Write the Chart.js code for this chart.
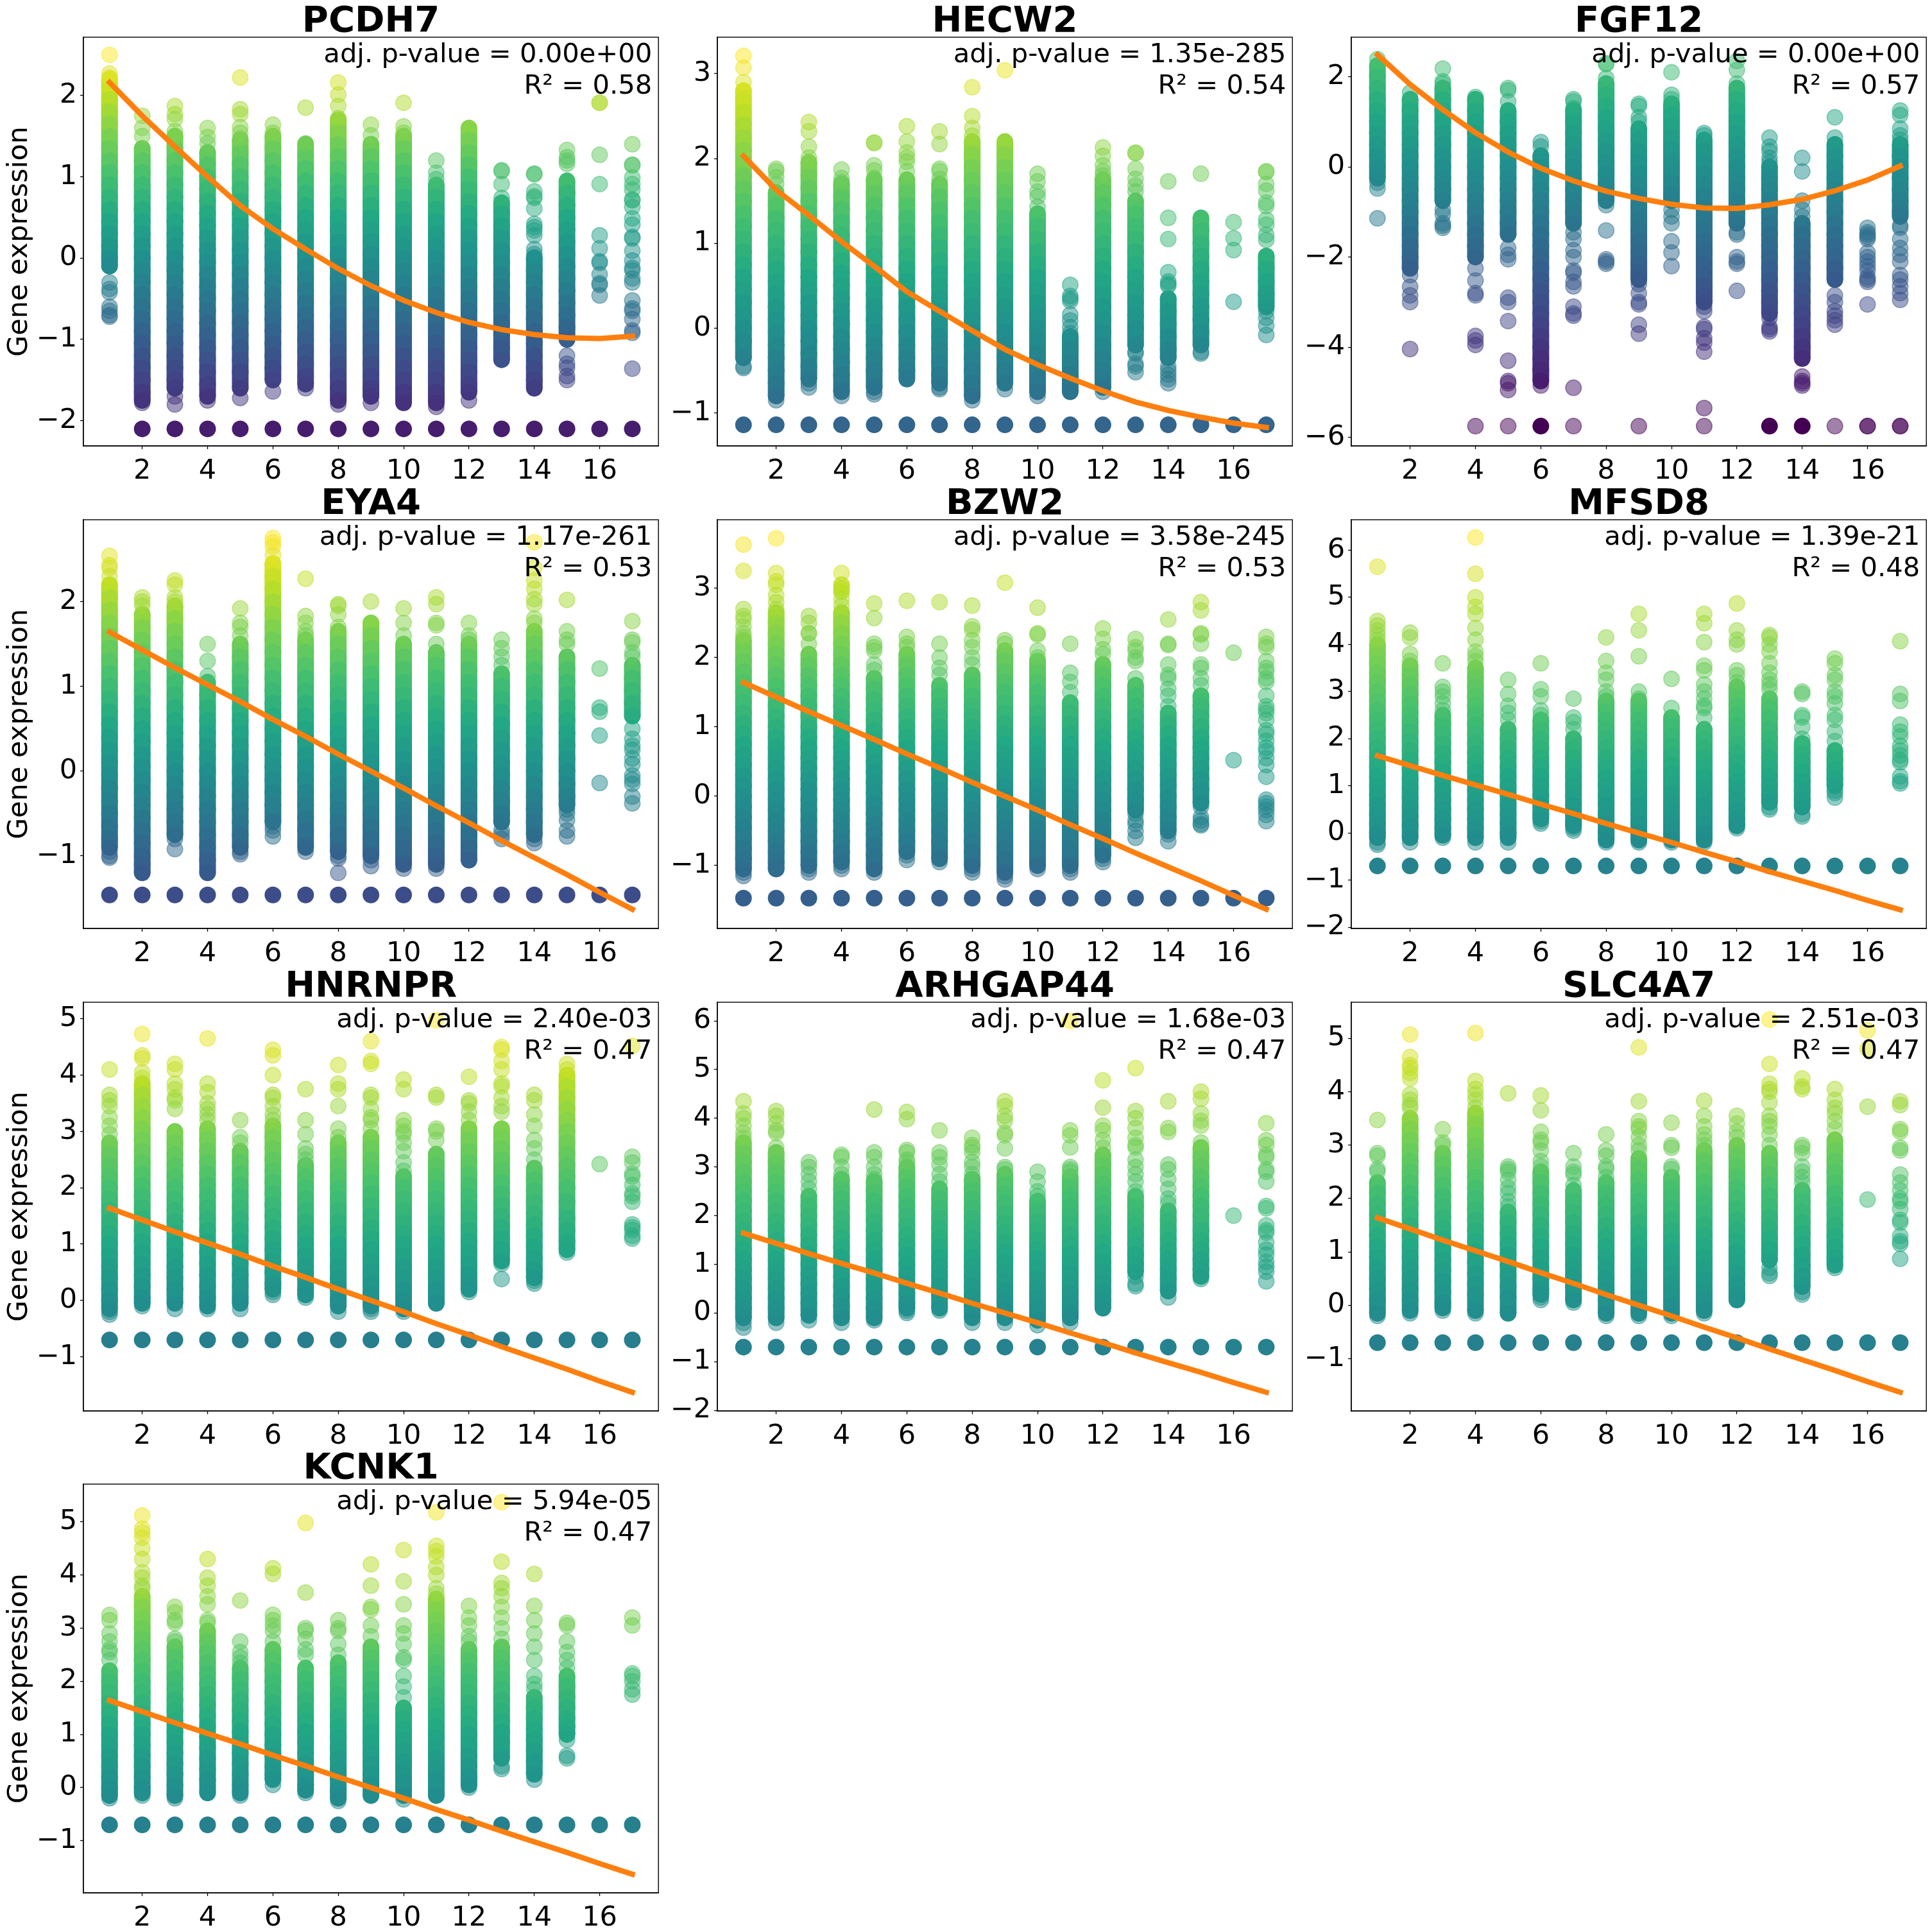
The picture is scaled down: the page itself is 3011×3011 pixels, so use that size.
<!DOCTYPE html>
<html>
<head>
<meta charset="utf-8">
<title>Gene expression</title>
<script src="https://cdn.jsdelivr.net/npm/chart.js@4"></script>
<style>
  html, body { margin: 0; padding: 0; background: #fff; }
  #page { position: relative; width: 3011px; height: 3011px; overflow: hidden; background: #fff; }
  canvas { position: absolute; }
</style>
</head>
<body>
<div id="page"></div>
<script>
const categories = [1,2,3,4,5,6,7,8,9,10,11,12,13,14,15,16,17];
const xTicks = [2,4,6,8,10,12,14,16];
const linearFit = [1.64,1.43,1.22,1.02,.82,.61,.41,.2,0,-.2,-.41,-.61,-.82,-1.02,-1.22,-1.43,-1.63];

// PCDH7
const PCDH7_fit = [2.16,1.75,1.37,1,.645,.36,.11,-.13,-.34,-.52,-.67,-.79,-.88,-.94,-.98,-.99,-.96];
const PCDH7_floor = -2.1;
const PCDH7_floorCols = [2,3,4,5,6,7,8,9,10,11,12,13,14,15,16,17];
const PCDH7_dense = [
[2.2,2.1,1.95,1.8,1.65,1.5,1.35,1.2,1.05,.9,.75,.6,.45,.3,.15,0,-.1],
[1.35,1.2,1.05,.9,.75,.6,.45,.3,.15,0,-.15,-.3,-.45,-.6,-.75,-.9,-1.05,-1.2,-1.35,-1.5,-1.65,-1.75],
[1.5,1.35,1.2,1.05,.9,.75,.6,.45,.3,.15,0,-.15,-.3,-.45,-.6,-.75,-.9,-1.05,-1.2,-1.35,-1.5,-1.6],
[1.3,1.15,1,.85,.7,.55,.4,.25,.1,-.05,-.2,-.35,-.5,-.65,-.8,-.95,-1.1,-1.25,-1.4,-1.55,-1.7],
[1.45,1.3,1.15,1,.85,.7,.55,.4,.25,.1,-.05,-.2,-.35,-.5,-.65,-.8,-.95,-1.1,-1.25,-1.4,-1.6],
[1.5,1.35,1.2,1.05,.9,.75,.6,.45,.3,.15,0,-.15,-.3,-.45,-.6,-.75,-.9,-1.05,-1.2,-1.35,-1.5],
[1.4,1.25,1.1,.95,.8,.65,.5,.35,.2,.05,-.1,-.25,-.4,-.55,-.7,-.85,-1,-1.15,-1.3,-1.45,-1.55],
[1.7,1.55,1.4,1.25,1.1,.95,.8,.65,.5,.35,.2,.05,-.1,-.25,-.4,-.55,-.7,-.85,-1,-1.15,-1.3,-1.45,-1.6,-1.75],
[1.4,1.25,1.1,.95,.8,.65,.5,.35,.2,.05,-.1,-.25,-.4,-.55,-.7,-.85,-1,-1.15,-1.3,-1.45,-1.6,-1.7],
[1.5,1.35,1.2,1.05,.9,.75,.6,.45,.3,.15,0,-.15,-.3,-.45,-.6,-.75,-.9,-1.05,-1.2,-1.35,-1.5,-1.65,-1.78],
[.9,.75,.6,.45,.3,.15,0,-.15,-.3,-.45,-.6,-.75,-.9,-1.05,-1.2,-1.35,-1.5,-1.65,-1.78],
[1.6,1.45,1.3,1.15,1,.85,.7,.55,.4,.25,.1,-.05,-.2,-.35,-.5,-.65,-.8,-.95,-1.1,-1.25,-1.4,-1.55,-1.65],
[.68,.55,.4,.25,.1,-.05,-.2,-.35,-.5,-.65,-.8,-.95,-1.1,-1.25],
[0,-.15,-.3,-.45,-.6,-.75,-.9,-1.05,-1.2,-1.35,-1.5,-1.6],
[.95,.8,.65,.5,.35,.2,.05,-.1,-.25,-.4,-.55,-.7,-.85,-1],
[],
[]
];
const PCDH7_sparse = [
[2.5,2.27,2.22,-.3,-.38,-.42,-.6,-.65,-.7,-.72],
[1.75,1.6,1.5,-1.78],
[1.87,1.77,1.71,1.56,1.5,-1.7,-1.8],
[1.6,1.49,1.41,-1.75],
[2.22,1.83,1.77,1.61,1.54,1.47,-1.72],
[1.64,1.54,-1.64],
[1.85,1.41,-1.6],
[2.16,2.01,1.87,1.72,-1.8],
[1.64,1.51,-1.78],
[1.91,1.62,1.54],
[1.2,1.05,.97,-1.83],
[-1.75],
[1.08,1.07,.91,.74],
[1.04,1.03,.82,.76,.74,.61,.42,.38,.34,.28,.11,.05,.01],
[1.33,1.24,1.2,1.16,-1.2,-1.3,-1.35,-1.45,-1.5],
[1.91,1.91,1.27,.91,.28,.12,-.04,-.06,-.2,-.31,-.33,-.46],
[1.4,1.15,1.14,.99,.91,.84,.72,.71,.63,.49,.41,.26,.24,.09,-.03,-.12,-.15,-.25,-.3,-.52,-.62,-.65,-.75,-.89,-.92,-1.36]
];

// HECW2
const HECW2_fit = [2.03,1.63,1.33,1.02,.73,.43,.2,-.03,-.25,-.43,-.59,-.74,-.87,-.97,-1.05,-1.12,-1.17];
const HECW2_floor = -1.14;
const HECW2_floorCols = categories;
const HECW2_dense = [
[2.8,2.7,2.55,2.4,2.25,2.1,1.95,1.8,1.65,1.5,1.35,1.2,1.05,.9,.75,.6,.45,.3,.15,0,-.15,-.35],
[1.6,1.45,1.3,1.15,1,.85,.7,.55,.4,.25,.1,-.05,-.2,-.35,-.5,-.65,-.8],
[1.95,1.8,1.65,1.5,1.35,1.2,1.05,.9,.75,.6,.45,.3,.15,0,-.15,-.3,-.45,-.6],
[1.7,1.55,1.4,1.25,1.1,.95,.8,.65,.5,.35,.2,.05,-.1,-.25,-.4,-.55,-.75],
[1.75,1.6,1.45,1.3,1.15,1,.85,.7,.55,.4,.25,.1,-.05,-.2,-.35,-.5,-.7],
[1.75,1.6,1.45,1.3,1.15,1,.85,.7,.55,.4,.25,.1,-.05,-.2,-.35,-.5,-.6],
[1.7,1.55,1.4,1.25,1.1,.95,.8,.65,.5,.35,.2,.05,-.1,-.25,-.4,-.55,-.65],
[2.2,2.05,1.9,1.75,1.6,1.45,1.3,1.15,1,.85,.7,.55,.4,.25,.1,-.05,-.2,-.35,-.5,-.65,-.8],
[2.2,2.05,1.9,1.75,1.6,1.45,1.3,1.15,1,.85,.7,.55,.4,.25,.1,-.05,-.2,-.35,-.5,-.65],
[1.35,1.2,1.05,.9,.75,.6,.45,.3,.15,0,-.15,-.3,-.45,-.6,-.75],
[-.1,-.25,-.4,-.55,-.65,-.75],
[1.75,1.6,1.45,1.3,1.15,1,.85,.7,.55,.4,.25,.1,-.05,-.2,-.35,-.5,-.7],
[1.5,1.35,1.2,1.05,.9,.75,.6,.45,.3,.15,0,-.2],
[.35,.2,.05,-.1,-.25,-.35],
[1.3,1.15,1,.85,.7,.55,.4,.25,.1,-.05,-.2],
[],
[.85,.7,.55,.4,.25]
];
const HECW2_sparse = [
[3.21,3.07,2.9,-.45,-.47],
[1.88,1.85,1.78,1.7,-.85],
[2.43,2.32,2.14,2.01,1.96,-.65,-.7],
[1.87,1.77,1.72,-.8],
[2.19,2.18,1.92,1.86,1.77,-.75,-.78],
[2.38,2.2,2.07,2.01,1.96,1.85],
[2.32,2.17,1.88,1.85,1.76,-.7,-.72],
[2.84,2.5,2.36,2.27,-.85],
[3.04,-.72],
[1.82,1.73,1.61,1.55,1.43,-.8],
[.51,.38,.35,.32,.16,.09,.01,-.06],
[2.13,2.03,1.92,1.85,1.8,-.75],
[2.07,2.06,1.88,1.76,1.68,1.61,-.3,-.28,-.42,-.45,-.52],
[1.73,1.3,1.05,.66,.55,.52,.5,-.45,-.5,-.55,-.6,-.65],
[1.82,-.28,-.3],
[1.25,1.06,.92,.31],
[1.85,1.84,1.7,1.62,1.48,1.44,1.28,1.22,1.1,1.04,.42,.31,.2,.12,.03,-.08]
];

// FGF12
const FGF12_fit = [2.49,1.83,1.27,.76,.33,-.03,-.31,-.54,-.7,-.83,-.91,-.92,-.84,-.72,-.53,-.29,.02];
const FGF12_floor = -5.75;
const FGF12_floorCols = [6,13,14];
const FGF12_dense = [
[2.25,2,1.75,1.5,1.25,1,.75,.5,.25,0,-.25],
[1.5,1.25,1,.75,.5,.25,0,-.25,-.5,-.75,-1,-1.25,-1.5,-1.75,-2,-2.25],
[1.75,1.5,1.25,1,.75,.5,.25,0,-.25,-.5,-.75],
[1.5,1.25,1,.75,.5,.25,0,-.25,-.5,-.75,-1,-1.25,-1.5,-1.75,-2],
[1.25,1,.75,.5,.25,0,-.25,-.5,-.75,-1,-1.25,-1.5],
[.25,0,-.25,-.5,-.75,-1,-1.25,-1.5,-1.75,-2,-2.25,-2.5,-2.75,-3,-3.25,-3.5,-3.75,-4,-4.25,-4.5,-4.75],
[1.25,1,.75,.5,.25,0,-.25,-.5,-.75,-1,-1.25],
[1.85,1.6,1.35,1.1,.85,.6,.35,.1,-.15,-.4,-.6,-.75],
[.85,.6,.35,.1,-.15,-.4,-.65,-.9,-1.15,-1.4,-1.65,-1.9,-2.15,-2.35,-2.5],
[1.4,1.15,.9,.65,.4,.15,-.1,-.35,-.6,-.75],
[.6,.35,.1,-.15,-.4,-.65,-.9,-1.15,-1.4,-1.65,-1.9,-2.15,-2.4,-2.65,-2.85,-3],
[1.75,1.5,1.25,1,.75,.5,.25,0,-.25,-.5,-.75,-1,-1.25],
[0,-.25,-.5,-.75,-1,-1.25,-1.5,-1.75,-2,-2.25,-2.5,-2.75,-3,-3.25],
[-1.25,-1.5,-1.75,-2,-2.25,-2.5,-2.75,-3,-3.25,-3.5,-3.75,-4,-4.25],
[.5,.25,0,-.25,-.5,-.75,-1,-1.25,-1.5,-1.75,-2,-2.25,-2.5],
[],
[.5,.25,0,-.25,-.5,-.75,-1,-1.1]
];
const FGF12_sparse = [
[2.39,-.35,-.48,-1.14],
[1.65,-2.4,-2.66,-2.85,-3,-4.04],
[2.18,1.9,1.85,-.95,-1.05,-1.25,-1.3,-1.35],
[1.55,-2.25,-2.52,-2.8,-2.85,-3.75,-3.85,-3.95,-5.75],
[1.75,1.7,1.45,-1.8,-1.95,-2.05,-2.9,-3,-3.42,-4.3,-4.75,-4.8,-4.95,-5.75],
[.55,.45,-4.85],
[1.5,1.45,1.3,-1.45,-1.6,-1.85,-2,-2.3,-2.35,-2.55,-2.65,-3.1,-3.25,-3.3,-4.9,-5.75],
[2.3,2.28,1.97,-.85,-1.41,-2.05,-2.1,-2.15],
[1.4,1.35,1.1,1,-2.6,-2.8,-3,-3.05,-3.5,-3.7,-5.75],
[2.1,1.6,1.5,-.95,-1.1,-1.25,-1.65,-1.9,-2.2],
[.75,.7,-3.1,-3.2,-3.55,-3.6,-3.8,-3.9,-4.1,-5.35,-5.75],
[2.35,2.15,1.85,-1.45,-1.5,-2,-2.1,-2.15,-2.75],
[.65,.45,.35,.2,.1,-3.35,-3.55,-3.6,-3.65],
[.2,-.1,-.75,-.95,-1.1,-4.65,-4.75,-4.8,-4.85],
[1.1,.65,-2.85,-3,-3.2,-3.3,-3.4,-3.5,-5.75],
[-1.35,-1.45,-1.5,-1.55,-1.6,-1.9,-2,-2.1,-2.2,-2.3,-2.45,-2.5,-2.55,-3.05,-5.75,-5.75],
[1.25,1.15,.85,.7,.6,-1.3,-1.35,-1.6,-1.8,-1.95,-2.1,-2.4,-2.5,-2.65,-2.8,-2.95,-5.75,-5.75]
];

// EYA4
const EYA4_floor = -1.46;
const EYA4_floorCols = categories;
const EYA4_dense = [
[2.2,2.05,1.9,1.75,1.6,1.45,1.3,1.15,1,.85,.7,.55,.4,.25,.1,-.05,-.2,-.35,-.5,-.65,-.8,-.9],
[1.85,1.7,1.55,1.4,1.25,1.1,.95,.8,.65,.5,.35,.2,.05,-.1,-.25,-.4,-.55,-.7,-.85,-1,-1.1,-1.2],
[1.95,1.8,1.65,1.5,1.35,1.2,1.05,.9,.75,.6,.45,.3,.15,0,-.15,-.3,-.45,-.6,-.75],
[1.05,.9,.75,.6,.45,.3,.15,0,-.15,-.3,-.45,-.6,-.75,-.9,-1.05,-1.2],
[1.5,1.35,1.2,1.05,.9,.75,.6,.45,.3,.15,0,-.15,-.3,-.45,-.6,-.75,-.9],
[2.45,2.3,2.15,2,1.85,1.7,1.55,1.4,1.25,1.1,.95,.8,.65,.5,.35,.2,.05,-.1,-.25,-.4,-.6],
[1.55,1.4,1.25,1.1,.95,.8,.65,.5,.35,.2,.05,-.1,-.25,-.4,-.55,-.7,-.9],
[1.65,1.5,1.35,1.2,1.05,.9,.75,.6,.45,.3,.15,0,-.15,-.3,-.45,-.6,-.75,-.95],
[1.75,1.6,1.45,1.3,1.15,1,.85,.7,.55,.4,.25,.1,-.05,-.2,-.35,-.5,-.65,-.8,-1],
[1.5,1.35,1.2,1.05,.9,.75,.6,.45,.3,.15,0,-.15,-.3,-.45,-.6,-.75,-.9,-1.1],
[1.4,1.25,1.1,.95,.8,.65,.5,.35,.2,.05,-.1,-.25,-.4,-.55,-.7,-.85,-1,-1.1],
[1.5,1.35,1.2,1.05,.9,.75,.6,.45,.3,.15,0,-.15,-.3,-.45,-.6,-.75,-.9,-1.05],
[1.15,1,.85,.7,.55,.4,.25,.1,-.05,-.2,-.35,-.5,-.6],
[1.65,1.5,1.35,1.2,1.05,.9,.75,.6,.45,.3,.15,0,-.15,-.3,-.45,-.6,-.75],
[1.35,1.2,1.05,.9,.75,.6,.45,.3,.15,0,-.15,-.3,-.4],
[],
[1.25,1.1,.95,.8,.65]
];
const EYA4_sparse = [
[2.54,2.43,2.4,2.3,-.95,-1,-1.02],
[2.05,2,1.95],
[2.25,2.2,2.05,2,-.8,-.92],
[1.5,1.3,1.12],
[1.92,1.75,1.7,1.6,-.95,-.98],
[2.75,2.7,2.65,2.55,-.65,-.7,-.77],
[2.27,1.83,1.75,1.65,1.6,-.95],
[1.97,1.95,1.85,1.7,-1,-1.03,-1.2],
[2,-1.05,-1.12],
[1.92,1.75,1.6,-1.15],
[2.05,1.97,1.75,1.72,1.5,-1.15],
[1.75,1.6,1.55],
[1.55,1.45,1.35,1.25,-.7,-.75,-.8],
[2.7,2.4,2.25,2.15,2.03,1.97,1.8,1.75,-.8,-.85],
[2.02,1.65,1.55,1.5,-.45,-.5,-.58,-.7,-.77],
[1.21,.75,.7,.42,-.14],
[1.77,1.55,1.52,1.4,1.35,.5,.38,.3,.25,.15,.08,-.05,-.1,-.15,-.3,-.38]
];

// BZW2
const BZW2_floor = -1.47;
const BZW2_floorCols = categories;
const BZW2_dense = [
[2.25,2.1,1.95,1.8,1.65,1.5,1.35,1.2,1.05,.9,.75,.6,.45,.3,.15,0,-.15,-.3,-.45,-.6,-.75,-.9,-1.05],
[2.65,2.5,2.35,2.2,2.05,1.9,1.75,1.6,1.45,1.3,1.15,1,.85,.7,.55,.4,.25,.1,-.05,-.2,-.35,-.5,-.65,-.8,-.95,-1.05],
[2.05,1.9,1.75,1.6,1.45,1.3,1.15,1,.85,.7,.55,.4,.25,.1,-.05,-.2,-.35,-.5,-.65,-.8,-1],
[2.65,2.5,2.35,2.2,2.05,1.9,1.75,1.6,1.45,1.3,1.15,1,.85,.7,.55,.4,.25,.1,-.05,-.2,-.35,-.5,-.65,-.8,-.95],
[1.7,1.55,1.4,1.25,1.1,.95,.8,.65,.5,.35,.2,.05,-.1,-.25,-.4,-.55,-.7,-.85,-1.05],
[2.05,1.9,1.75,1.6,1.45,1.3,1.15,1,.85,.7,.55,.4,.25,.1,-.05,-.2,-.35,-.5,-.65,-.8],
[1.6,1.45,1.3,1.15,1,.85,.7,.55,.4,.25,.1,-.05,-.2,-.35,-.5,-.65,-.9],
[1.75,1.6,1.45,1.3,1.15,1,.85,.7,.55,.4,.25,.1,-.05,-.2,-.35,-.5,-.65,-.8,-1],
[2.1,1.95,1.8,1.65,1.5,1.35,1.2,1.05,.9,.75,.6,.45,.3,.15,0,-.15,-.3,-.45,-.6,-.75,-.9,-1.1],
[1.95,1.8,1.65,1.5,1.35,1.2,1.05,.9,.75,.6,.45,.3,.15,0,-.15,-.3,-.45,-.6,-.75,-1],
[1.35,1.2,1.05,.9,.75,.6,.45,.3,.15,0,-.15,-.3,-.45,-.6,-.75,-1],
[1.9,1.75,1.6,1.45,1.3,1.15,1,.85,.7,.55,.4,.25,.1,-.05,-.2,-.35,-.5,-.65,-.85],
[1.6,1.45,1.3,1.15,1,.85,.7,.55,.4,.25,.1,-.05,-.2],
[1.2,1.05,.9,.75,.6,.45,.3,.15,0,-.15,-.3,-.5],
[1.45,1.3,1.15,1,.85,.7,.55,.4,.25,.1,-.1],
[],
[]
];
const BZW2_sparse = [
[3.63,3.25,2.7,2.6,2.55,2.45,2.35,2.3,-1.1,-1.15],
[3.72,3.22,3.1,3.05,2.9,2.8,2.7],
[2.6,2.5,2.35,2.35,2.2,-1.05,-1.1],
[3.22,3.05,3.05,3,3,2.95,2.95,2.85,2.75,-1,-1.05],
[2.78,2.57,2.2,2.15,2.1,1.9,1.82,-1.1],
[2.82,2.3,2.2,2.15,-.85,-.92],
[2.8,2.2,2,1.85,1.75,-.95],
[2.75,2.45,2.4,2.25,2.15,2,1.9,-1.05,-1.1],
[3.08,2.25,2.2,-1.15,-1.2],
[2.72,2.35,2.33,2.1,2,-1.05],
[2.2,1.78,1.65,1.5,-1.05,-1.1],
[2.42,2.27,2.12,2.05,-.9,-.95],
[2.27,2.15,2.1,2,1.95,1.7,-.25,-.35,-.4,-.5,-.6],
[2.55,2.2,2.18,1.9,1.75,1.7,1.55,1.45,1.3,-.55,-.65],
[2.8,2.68,2.35,2.33,2.2,1.9,1.85,1.7,1.6,-.15,-.3,-.35,-.4,-.42],
[2.07,.52],
[2.3,2.2,2.15,1.95,1.85,1.8,1.7,1.65,1.45,1.3,1.25,1.2,1.1,.95,.9,.8,.7,.65,.55,.45,.28,-.05,-.1,-.15,-.2,-.27,-.36]
];

// MFSD8
const MFSD8_floor = -.7;
const MFSD8_floorCols = categories;
const MFSD8_dense = [
[4,3.8,3.6,3.4,3.2,3,2.8,2.6,2.4,2.2,2,1.8,1.6,1.4,1.2,1,.8,.6,.4,.2,0,-.1],
[3.55,3.35,3.15,2.95,2.75,2.55,2.35,2.15,1.95,1.75,1.55,1.35,1.15,.95,.75,.55,.35,.15,-.1],
[2.5,2.3,2.1,1.9,1.7,1.5,1.3,1.1,.9,.7,.5,.3,.1,-.05],
[3.5,3.3,3.1,2.9,2.7,2.5,2.3,2.1,1.9,1.7,1.5,1.3,1.1,.9,.7,.5,.3,.1,-.1],
[2.2,2,1.8,1.6,1.4,1.2,1,.8,.6,.4,.2,0,-.1],
[2.4,2.2,2,1.8,1.6,1.4,1.2,1,.8,.6,.4,.3],
[2,1.8,1.6,1.4,1.2,1,.8,.6,.4,.25,.15],
[2.8,2.6,2.4,2.2,2,1.8,1.6,1.4,1.2,1,.8,.6,.4,.2,0,-.15],
[2.8,2.6,2.4,2.2,2,1.8,1.6,1.4,1.2,1,.8,.6,.4,.2,0,-.15],
[2.45,2.25,2.05,1.85,1.65,1.45,1.25,1.05,.85,.65,.45,.25,.05,-.15],
[2.2,2,1.8,1.6,1.4,1.2,1,.8,.6,.4,.2,0,-.15],
[3.1,2.9,2.7,2.5,2.3,2.1,1.9,1.7,1.5,1.3,1.1,.9,.7,.5,.3,.15],
[2.85,2.65,2.45,2.2,2,1.8,1.6,1.4,1.2,1,.8,.65],
[1.9,1.7,1.5,1.3,1.1,.9,.7,.55],
[1.75,1.55,1.35,1.15,1],
[],
[]
];
const MFSD8_sparse = [
[5.65,4.5,4.4,4.3,4.2,4.1,-.2,-.25],
[4.25,4.15,3.8,3.65,-.2],
[3.6,3.1,3,2.9,2.75,2.6,-.1],
[6.27,5.5,5,4.8,4.65,4.35,4.1,3.85,3.75,3.65,-.2],
[3.25,2.95,2.7,2.55,2.4,-.2],
[3.6,3.05,2.9,2.6,2.5,.25,.2],
[2.85,2.45,2.35,2.2,.1,.05],
[4.15,3.65,3.4,3.25,3,2.9,-.2],
[4.65,4.3,3.75,3,2.85,-.2],
[3.27,2.65,-.2],
[4.65,4.45,4.05,3.55,3.45,3.15,3,2.85,2.7,2.65,2.45,-.2],
[4.87,4.3,4.1,4,3.45,3.35,3.2,.1],
[4.2,4.15,4,3.85,3.6,3.4,3.25,3.15,3.05,.55,.5],
[3,2.95,2.5,2.45,2.25,2,.4,.35],
[3.7,3.6,3.35,3.25,3,2.9,2.75,2.5,2.4,2.15,1.95,.9,.85,.75],
[],
[4.07,2.95,2.8,2.3,2.15,2.05,1.85,1.75,1.65,1.55,1.5,1.2,1.1,1.05]
];

// HNRNPR
const HNRNPR_floor = -.7;
const HNRNPR_floorCols = categories;
const HNRNPR_dense = [
[2.8,2.6,2.4,2.2,2,1.8,1.6,1.4,1.2,1,.8,.6,.4,.2,0,-.15],
[3.85,3.65,3.45,3.25,3.05,2.85,2.65,2.45,2.25,2.05,1.85,1.65,1.45,1.25,1.05,.85,.65,.45,.25,.05,-.05],
[3,2.8,2.6,2.4,2.2,2,1.8,1.6,1.4,1.2,1,.8,.6,.4,.2,-.05],
[3.05,2.85,2.65,2.45,2.25,2.05,1.85,1.65,1.45,1.25,1.05,.85,.65,.45,.25,.05,-.1],
[2.65,2.45,2.25,2.05,1.85,1.65,1.45,1.25,1.05,.85,.65,.45,.25,.05,-.05],
[3.1,2.9,2.7,2.5,2.3,2.1,1.9,1.7,1.5,1.3,1.1,.9,.7,.5,.3,.2],
[2.4,2.2,2,1.8,1.6,1.4,1.2,1,.8,.6,.4,.2,.1],
[2.8,2.6,2.4,2.2,2,1.8,1.6,1.4,1.2,1,.8,.6,.4,.2,0,-.1],
[2.9,2.7,2.5,2.3,2.1,1.9,1.7,1.5,1.3,1.1,.9,.7,.5,.3,.1,-.1],
[2.2,2,1.8,1.6,1.4,1.2,1,.8,.6,.4,.2,0,-.15],
[2.6,2.4,2.2,2,1.8,1.6,1.4,1.2,1,.8,.6,.4,.2,-.05],
[3.05,2.85,2.65,2.45,2.25,2.05,1.85,1.65,1.45,1.25,1.05,.85,.65,.45,.3,.2],
[3.05,2.9,2.7,2.5,2.3,2.1,1.9,1.7,1.5,1.3,1.1,.9,.7],
[2.35,2.15,1.95,1.75,1.55,1.35,1.15,.95,.75,.55,.4],
[4,3.8,3.6,3.4,3.2,3,2.8,2.6,2.4,2.2,2,1.75,1.45,1.25,1.05,.9],
[],
[]
];
const HNRNPR_sparse = [
[4.1,3.65,3.55,3.45,3.25,3.1,2.95,-.2,-.25],
[4.73,4.35,4.3,4.05,3.95,-.1],
[4.2,4.1,3.85,3.75,3.6,3.55,3.4,-.15],
[4.65,3.85,3.7,3.5,3.4,3.3,3.2,-.15],
[3.2,2.9,2.8,-.15],
[4.45,4.35,4,3.65,3.6,3.45,3.3,3.2,.15,.1],
[3.75,3.2,2.95,2.7,2.6,2.5,.05],
[4.18,3.85,3.75,3.45,3.05,2.9,-.2],
[4.6,4.25,4.2,3.65,3.6,3.4,3.25,3.2,3.05,-.15,-.2],
[3.92,3.75,3.2,3.1,3,2.95,2.8,2.65,2.45,2.3,-.2],
[4.97,3.65,3.6,3.05,3,2.85],
[3.97,3.55,3.5,3.35,3.2,.15],
[4.5,4.45,4.25,4.1,3.85,3.8,3.6,3.45,3.35,.65,.38],
[3.65,3.55,3.3,3.1,2.85,2.7,2.5,.35,.3],
[4.2,4.1,.85],
[2.42],
[4.52,2.55,2.45,2.25,2.2,2.05,1.9,1.85,1.75,1.35,1.3,1.25,1.15,1.1]
];

// ARHGAP44
const ARHGAP44_floor = -.7;
const ARHGAP44_floorCols = categories;
const ARHGAP44_dense = [
[3.5,3.3,3.1,2.9,2.7,2.5,2.3,2.1,1.9,1.7,1.5,1.3,1.1,.9,.7,.5,.3,.1,-.1],
[3.3,3.1,2.9,2.7,2.5,2.3,2.1,1.9,1.7,1.5,1.3,1.1,.9,.7,.5,.3,.1,-.1],
[2.4,2.2,2,1.8,1.6,1.4,1.2,1,.8,.6,.4,.2,-.05],
[2.75,2.55,2.35,2.15,1.95,1.75,1.55,1.35,1.15,.95,.75,.55,.35,.15,-.1],
[2.7,2.5,2.3,2.1,1.9,1.7,1.5,1.3,1.1,.9,.7,.5,.3,.1,-.1],
[3,2.8,2.6,2.4,2.2,2,1.8,1.6,1.4,1.2,1,.8,.6,.4,.2,.1],
[2.55,2.35,2.15,1.95,1.75,1.55,1.35,1.15,.95,.75,.55,.35,.1],
[2.75,2.55,2.35,2.15,1.95,1.75,1.55,1.35,1.15,.95,.75,.55,.35,.15,-.1],
[2.85,2.65,2.45,2.25,2.05,1.85,1.65,1.45,1.25,1.05,.85,.65,.45,.25,.05,-.1],
[2.3,2.1,1.9,1.7,1.5,1.3,1.1,.9,.7,.5,.3,.1,-.15],
[2.8,2.6,2.4,2.2,2,1.8,1.6,1.4,1.2,1,.8,.6,.4,.2,0,-.1],
[3.25,3.05,2.85,2.65,2.45,2.25,2.05,1.85,1.65,1.45,1.25,1.05,.85,.65,.45,.25,.1],
[2.4,2.2,2,1.8,1.6,1.4,1.2,1,.85],
[2.1,1.9,1.7,1.5,1.3,1.1,.9,.7,.45],
[3.4,3.2,3,2.8,2.6,2.4,2.2,2,1.7,1.5,1.3,1.1,.9,.75],
[],
[]
];
const ARHGAP44_sparse = [
[4.35,4.1,4,3.85,3.7,3.6,-.2,-.3],
[4.15,4.05,3.9,3.75,3.7,3.4,-.2],
[3.1,3,2.85,2.7,2.55,-.15],
[3.25,3.2,3,2.85,-.2],
[4.18,3.3,3.2,3,2.85,2.75,-.15],
[4.13,3.98,3.35,3.3,3.15,3.1,.05,0],
[3.75,3.3,3.2,3.05,2.85,2.7,.05],
[3.6,3.45,3.4,3.3,3.1,3,2.85,-.2],
[4.35,4.25,4.05,3.95,3.7,3.65,3.38,3,2.95,-.2],
[2.9,2.7,2.5,2.4,-.25],
[6,3.75,3.65,3.4,3,2.95,2.9,-.2],
[4.78,4.22,3.85,3.75,3.55,3.4],
[5.03,4.15,4,3.8,3.6,3.45,3.4,3.15,3,2.85,2.7,2.5,.75,.6,.55],
[4.35,3.8,3.72,3.05,2.95,2.75,2.55,2.35,2.25,.32],
[4.55,4.4,4.1,3.95,3.85,3.5,.7],
[2],
[3.9,3.55,3.45,3.25,3.2,2.95,2.9,2.7,2.2,2.15,1.8,1.7,1.65,1.45,1.3,1.2,1.05,.95,.85,.65]
];

// SLC4A7
const SLC4A7_floor = -.7;
const SLC4A7_floorCols = categories;
const SLC4A7_dense = [
[2.3,2.1,1.9,1.7,1.5,1.3,1.1,.9,.7,.5,.3,.1,-.15],
[3.5,3.3,3.1,2.9,2.7,2.5,2.3,2.1,1.9,1.7,1.5,1.3,1.1,.9,.7,.5,.3,.1,-.1],
[2.85,2.65,2.45,2.25,2.05,1.85,1.65,1.45,1.25,1.05,.85,.65,.45,.25,.05,-.05],
[3.6,3.4,3.2,3,2.8,2.6,2.4,2.2,2,1.8,1.6,1.4,1.2,1,.8,.6,.4,.2,-.1],
[1.75,1.55,1.35,1.15,.95,.75,.55,.35,.15,-.15],
[2.5,2.3,2.1,1.9,1.7,1.5,1.3,1.1,.9,.7,.5,.3,.2],
[2.15,1.95,1.75,1.55,1.35,1.15,.95,.75,.55,.35,.1],
[2.3,2.1,1.9,1.7,1.5,1.3,1.1,.9,.7,.5,.3,.1,-.15],
[2.75,2.55,2.35,2.15,1.95,1.75,1.55,1.35,1.15,.95,.75,.55,.35,.15,-.15],
[2.4,2.2,2,1.8,1.6,1.4,1.2,1,.8,.6,.4,.2,0,-.15],
[2.9,2.7,2.5,2.3,2.1,1.9,1.7,1.5,1.3,1.1,.9,.7,.5,.3,.1,-.1],
[3,2.8,2.6,2.4,2.2,2,1.8,1.6,1.4,1.2,1,.8,.6,.4,.2,.1],
[2.85,2.65,2.45,2.25,2.05,1.85,1.65,1.45,1.25,1.05,.85],
[2.15,1.95,1.75,1.55,1.35,1.15,.95,.75,.55,.35],
[3.1,2.9,2.7,2.5,2.3,2.1,1.9,1.7,1.5,1.3,1.1,.9,.75],
[],
[]
];
const SLC4A7_sparse = [
[3.47,2.85,2.8,2.55,2.5,-.2],
[5.07,4.65,4.5,4.45,4.35,4.25,3.95,3.85,3.75,3.7,-.15],
[3.3,3.05,3,-.1],
[5.1,4.2,4.05,3.95,3.85,3.7,-.15],
[3.97,2.6,2.55,2.5,2.35,2.2,2.1,1.95,1.85],
[3.93,3.65,3.25,3.1,3.05,2.9,2.7,2.6,.15,.1],
[2.85,2.6,2.5,2.45,2.25,.05],
[3.2,2.9,2.8,2.6,2.55,2.4,-.2],
[4.83,3.82,3.45,3.35,3.3,3.15,3,2.9,-.2],
[3.42,3,2.95,2.6,2.55,-.2],
[3.83,3.55,3.35,3.2,3.1,3,-.15],
[3.55,3.4,3.25,3.15],
[5.35,4.52,4.15,4.05,4,3.8,3.55,3.45,3.35,3.2,3,.7,.6,.55],
[4.25,4.1,4.05,3,2.95,2.85,2.6,2.5,2.4,2.3,.25,.2],
[4.05,3.85,3.7,3.6,3.45,3.3,.7],
[5.15,4.8,3.72,1.98],
[3.82,3.75,3.3,3.25,2.95,2.9,2.45,2.3,2.15,2,1.95,1.8,1.6,1.55,1.3,1.2,1.15,.87]
];

// KCNK1
const KCNK1_floor = -.7;
const KCNK1_floorCols = categories;
const KCNK1_dense = [
[2.2,2,1.8,1.6,1.4,1.2,1,.8,.6,.4,.2,0,-.15],
[3.6,3.4,3.2,3,2.8,2.6,2.4,2.2,2,1.8,1.6,1.4,1.2,1,.8,.6,.4,.2,0,-.1],
[2.65,2.45,2.25,2.05,1.85,1.65,1.45,1.25,1.05,.85,.65,.45,.25,.05,-.15],
[2.95,2.75,2.55,2.35,2.15,1.95,1.75,1.55,1.35,1.15,.95,.75,.55,.35,.15,-.1],
[2.25,2.05,1.85,1.65,1.45,1.25,1.05,.85,.65,.45,.25,.05,-.1],
[2.6,2.4,2.2,2,1.8,1.6,1.4,1.2,1,.8,.6,.4,.25,.15],
[2.25,2.05,1.85,1.65,1.45,1.25,1.05,.85,.65,.45,.25,.05,-.05],
[2.35,2.15,1.95,1.75,1.55,1.35,1.15,.95,.75,.55,.35,.15,-.05,-.2],
[2.65,2.45,2.25,2.05,1.85,1.65,1.45,1.25,1.05,.85,.65,.45,.25,.05,-.15],
[1.5,1.3,1.1,.9,.7,.5,.3,.1,-.15],
[3.55,3.35,3.15,2.95,2.75,2.55,2.35,2.15,1.95,1.75,1.55,1.35,1.15,.95,.75,.55,.35,.15,-.15],
[2.6,2.4,2.2,2,1.8,1.6,1.4,1.2,1,.8,.6,.4,.2,.05],
[2.65,2.45,2.25,2.05,1.85,1.65,1.45,1.25,1.05,.85,.55],
[1.7,1.5,1.3,1.1,.9,.7,.5,.25],
[2.1,1.9,1.7,1.5,1.3,1.15,1],
[],
[]
];
const KCNK1_sparse = [
[3.25,3.15,2.9,2.75,2.6,2.55,2.4,-.2],
[5.12,4.87,4.8,4.7,4.5,4.3,4.05,3.95,3.8,3.75,-.15],
[3.4,3.3,3.15,3.1,2.8,2.75,-.2],
[4.3,3.95,3.8,3.6,3.45,3.15,3.1],
[3.52,2.75,2.55,2.45,2.35,-.15],
[4.13,4.02,3.25,3.15,3.05,2.95,2.75,.05],
[4.98,3.67,3,2.95,2.8,2.6,2.5,-.1],
[3.15,3,2.95,2.7,2.5,-.25],
[4.2,3.8,3.4,3.35,3.05,2.85],
[4.47,3.88,3.45,3.05,2.9,2.7,2.45,2.4,2.1,1.9,1.7,-.22],
[5.18,4.55,4.45,4.35,4.15,4,3.75,3.65],
[3.42,3.2,3.05,2.85,2.75,0],
[5.37,4.25,3.85,3.75,3.6,3.4,3.2,3,2.8,.4,.35],
[4.02,3.42,3.15,2.9,2.65,2.4,2.1,1.95,1.85,.15],
[3.1,3.05,2.75,2.55,2.4,2.25,.9,.6,.55],
[],
[3.2,3.05,2.15,2.1,2,1.85,1.75]
];

const PCDH7_yTicks = [-2,-1,0,1,2];
const HECW2_yTicks = [-1,0,1,2,3];
const FGF12_yTicks = [-6,-4,-2,0,2];
const EYA4_yTicks = [-1,0,1,2];
const BZW2_yTicks = [-1,0,1,2,3];
const MFSD8_yTicks = [-2,-1,0,1,2,3,4,5,6];
const HNRNPR_yTicks = [-1,0,1,2,3,4,5];
const ARHGAP44_yTicks = [-2,-1,0,1,2,3,4,5,6];
const SLC4A7_yTicks = [-1,0,1,2,3,4,5];
const KCNK1_yTicks = [-1,0,1,2,3,4,5];

const panels = [
  {name:'PCDH7', p:'0.00e+00', r2:'0.58', fit:PCDH7_fit, dense:PCDH7_dense, sparse:PCDH7_sparse, floor:PCDH7_floor, floorCols:PCDH7_floorCols, yTicks:PCDH7_yTicks, yMin:-2.31, yMax:2.716},
  {name:'HECW2', p:'1.35e-285', r2:'0.54', fit:HECW2_fit, dense:HECW2_dense, sparse:HECW2_sparse, floor:HECW2_floor, floorCols:HECW2_floorCols, yTicks:HECW2_yTicks, yMin:-1.389, yMax:3.43},
  {name:'FGF12', p:'0.00e+00', r2:'0.57', fit:FGF12_fit, dense:FGF12_dense, sparse:FGF12_sparse, floor:FGF12_floor, floorCols:FGF12_floorCols, yTicks:FGF12_yTicks, yMin:-6.19, yMax:2.877},
  {name:'EYA4', p:'1.17e-261', r2:'0.53', fit:linearFit, dense:EYA4_dense, sparse:EYA4_sparse, floor:EYA4_floor, floorCols:EYA4_floorCols, yTicks:EYA4_yTicks, yMin:-1.856, yMax:2.966},
  {name:'BZW2', p:'3.58e-245', r2:'0.53', fit:linearFit, dense:BZW2_dense, sparse:BZW2_sparse, floor:BZW2_floor, floorCols:BZW2_floorCols, yTicks:BZW2_yTicks, yMin:-1.907, yMax:3.988},
  {name:'MFSD8', p:'1.39e-21', r2:'0.48', fit:linearFit, dense:MFSD8_dense, sparse:MFSD8_sparse, floor:MFSD8_floor, floorCols:MFSD8_floorCols, yTicks:MFSD8_yTicks, yMin:-2.026, yMax:6.647},
  {name:'HNRNPR', p:'2.40e-03', r2:'0.47', fit:linearFit, dense:HNRNPR_dense, sparse:HNRNPR_sparse, floor:HNRNPR_floor, floorCols:HNRNPR_floorCols, yTicks:HNRNPR_yTicks, yMin:-1.961, yMax:5.293},
  {name:'ARHGAP44', p:'1.68e-03', r2:'0.47', fit:linearFit, dense:ARHGAP44_dense, sparse:ARHGAP44_sparse, floor:ARHGAP44_floor, floorCols:ARHGAP44_floorCols, yTicks:ARHGAP44_yTicks, yMin:-2.013, yMax:6.384},
  {name:'SLC4A7', p:'2.51e-03', r2:'0.47', fit:linearFit, dense:SLC4A7_dense, sparse:SLC4A7_sparse, floor:SLC4A7_floor, floorCols:SLC4A7_floorCols, yTicks:SLC4A7_yTicks, yMin:-1.98, yMax:5.676},
  {name:'KCNK1', p:'5.94e-05', r2:'0.47', fit:linearFit, dense:KCNK1_dense, sparse:KCNK1_sparse, floor:KCNK1_floor, floorCols:KCNK1_floorCols, yTicks:KCNK1_yTicks, yMin:-1.98, yMax:5.71}
];

// viridis stops, colour = 0.5 + 0.5 * y / max|y| in each panel
const viridis = [[68,1,84],[72,36,117],[65,68,135],[53,95,141],[42,120,142],[33,144,141],[34,168,132],[68,191,112],[122,209,81],[189,223,38],[253,231,37]];
function viridisColor(t, alpha) {
  t = Math.min(1, Math.max(0, t)) * 10;
  const i = Math.min(9, Math.floor(t)), f = t - i;
  const c = [0,1,2].map(k => Math.round(viridis[i][k] + (viridis[i+1][k] - viridis[i][k]) * f));
  return 'rgba(' + c[0] + ',' + c[1] + ',' + c[2] + ',' + alpha + ')';
}

const colLefts = [130, 1118, 2106];
const rowTops = [58, 810, 1561.5, 2312.5];
const plotW = 896, plotH = 637;
// marginRight covers the room Chart.js keeps for the point radius
const marginLeft = 130, marginTop = 58, marginRight = 14, marginBottom = 62;
const page = document.getElementById('page');

function points(columns) {
  const out = [];
  columns.forEach((ys, c) => ys.forEach(y => out.push({x: categories[c], y: y})));
  return out;
}

// dense readings of one column joined up, a gap between columns
function bandPath(columns) {
  const out = [];
  columns.forEach((ys, c) => {
    ys.forEach(y => out.push({x: categories[c], y: y}));
    out.push({x: categories[c], y: null});
  });
  return out;
}

function panelNotes(panel) {
  return {
    id: 'panelNotes',
    afterDraw(chart) {
      const ctx = chart.ctx, a = chart.chartArea;
      ctx.save();
      ctx.strokeStyle = '#000';
      ctx.lineWidth = 1.4;
      ctx.strokeRect(a.left, a.top, a.right - a.left, a.bottom - a.top);
      ctx.fillStyle = '#000';
      ctx.font = '41.67px "DejaVu Sans"';
      ctx.textAlign = 'right';
      ctx.textBaseline = 'middle';
      ctx.fillText('adj. p-value = ' + panel.p, a.right - 10, a.top + 28);
      ctx.fillText('R\u00b2 = ' + panel.r2, a.right - 10, a.top + 77);
      ctx.restore();
    }
  };
}

panels.forEach((panel, i) => {
  const col = i % 3, row = Math.floor(i / 3);
  const canvas = document.createElement('canvas');
  canvas.width = marginLeft + plotW + marginRight;
  canvas.height = marginTop + plotH + marginBottom;
  canvas.style.left = (colLefts[col] - marginLeft) + 'px';
  canvas.style.top = (rowTops[row] - marginTop) + 'px';
  canvas.style.width = canvas.width + 'px';
  canvas.style.height = canvas.height + 'px';
  page.appendChild(canvas);

  const dense = points(panel.dense).concat(panel.floorCols.map(c => ({x: c, y: panel.floor})));
  const sparse = points(panel.sparse);
  const maxAbs = Math.max(...dense.concat(sparse).map(d => Math.abs(d.y)));
  const colorOf = (d, alpha) => viridisColor(0.5 + 0.5 * d.y / maxAbs, alpha);

  const bandColor = c => {
    const chart = c.chart;
    if (!chart.chartArea) return '#21918c';
    const y = chart.scales.y;
    const g = chart.ctx.createLinearGradient(0, y.getPixelForValue(maxAbs), 0, y.getPixelForValue(-maxAbs));
    viridis.forEach((s, k) => g.addColorStop(1 - k / 10, 'rgb(' + s.join(',') + ')'));
    return g;
  };

  new Chart(canvas, {
    type: 'scatter',
    data: {
      datasets: [
        {type: 'line', label: 'fit', data: panel.fit.map((y, c) => ({x: categories[c], y: y})),
         borderColor: '#ff7f0e', borderWidth: 8.3, borderCapStyle: 'square', pointRadius: 0, tension: 0, order: 0},
        {label: 'cells', data: sparse, pointRadius: 12.2, pointBorderWidth: 1.6,
         pointBackgroundColor: sparse.map(d => colorOf(d, 0.5)), pointBorderColor: sparse.map(d => colorOf(d, 0.5)), order: 1},
        {label: 'dense cells', data: dense, pointRadius: 12.2, pointBorderWidth: 1.6,
         pointBackgroundColor: dense.map(d => colorOf(d, 1)), pointBorderColor: dense.map(d => colorOf(d, 1)), order: 2},
        {type: 'line', label: 'dense band', data: bandPath(panel.dense), spanGaps: false, pointRadius: 0, tension: 0,
         borderWidth: 26, borderCapStyle: 'butt', borderColor: bandColor, order: 3}
      ]
    },
    options: {
      responsive: false,
      animation: false,
      devicePixelRatio: 1,
      layout: {padding: 0},
      plugins: {
        legend: {display: false},
        tooltip: {enabled: false},
        title: {display: true, text: panel.name, color: '#000', fullSize: false,
                font: {family: '"DejaVu Sans"', size: 56, weight: 'bold', lineHeight: 1}, padding: {top: 6, bottom: -4}}
      },
      scales: {
        x: {
          type: 'linear', min: 0.2, max: 17.8,
          afterBuildTicks: axis => { axis.ticks = xTicks.map(v => ({value: v})); },
          afterFit: axis => { axis.height = marginBottom; axis.paddingLeft = 0; axis.paddingRight = 0; },
          ticks: {color: '#000', padding: 9, maxRotation: 0, autoSkip: false, font: {family: '"DejaVu Sans"', size: 43}},
          grid: {drawOnChartArea: false, drawTicks: true, tickLength: 5, tickWidth: 1.3, tickColor: '#000'},
          border: {display: true, color: '#000', width: 1.4}
        },
        y: {
          type: 'linear', min: panel.yMin, max: panel.yMax,
          afterBuildTicks: axis => { axis.ticks = panel.yTicks.map(v => ({value: v})); },
          afterFit: axis => { axis.width = marginLeft; axis.paddingTop = 0; axis.paddingBottom = 0; },
          ticks: {color: '#000', padding: 5, autoSkip: false, font: {family: '"DejaVu Sans"', size: 43},
                  callback: v => String(v).replace('-', '\u2212')},
          grid: {drawOnChartArea: false, drawTicks: true, tickLength: 5, tickWidth: 1.3, tickColor: '#000'},
          border: {display: true, color: '#000', width: 1.4},
          title: {display: col === 0, text: 'Gene expression', color: '#000', padding: {top: 5, bottom: 0},
                  font: {family: '"DejaVu Sans"', size: 43, lineHeight: 1.2}}
        }
      }
    },
    plugins: [panelNotes(panel)]
  });
});
</script>
</body>
</html>
